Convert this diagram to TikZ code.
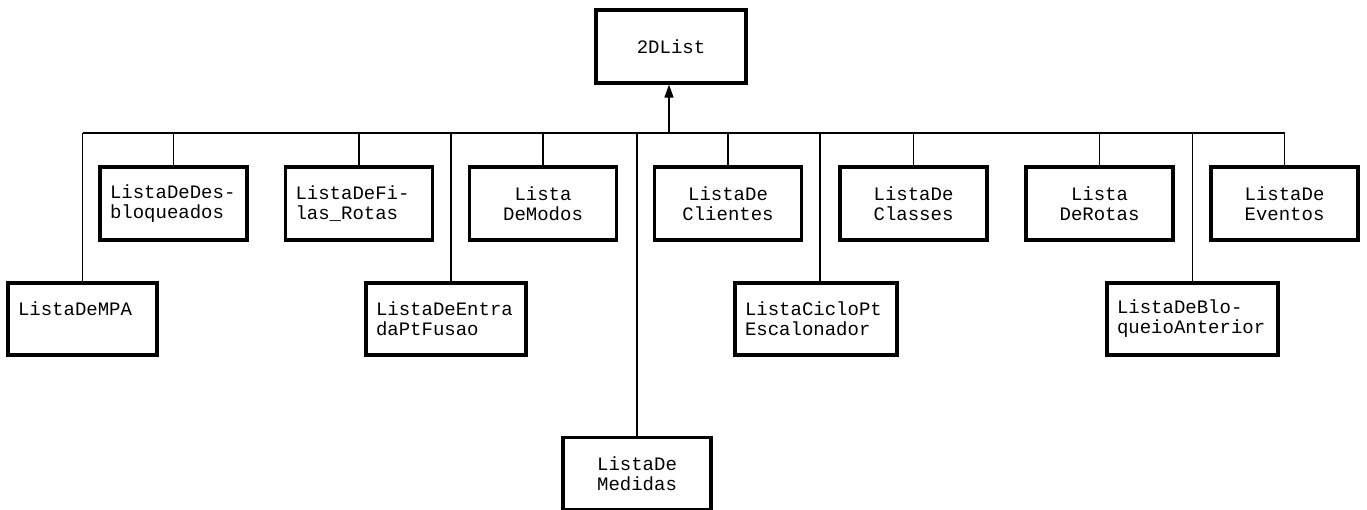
\documentclass[tikz,border=0pt]{standalone}
\usepackage{fontspec}
\setmonofont{Liberation Mono}
\usetikzlibrary{arrows.meta}
\newfontfamily\diagfont{Liberation Mono}
\begin{document}
\begin{tikzpicture}[x=1pt,y=-1pt,
  cls/.style={draw, line width=3.2pt, inner xsep=10pt, inner ysep=0pt,
    minimum height=73pt, font=\diagfont\fontsize{19}{20}\selectfont},
  lbox/.style={cls, align=left},
  cbox/.style={cls, align=center},
  conn/.style={line width=1.3pt}
]
\useasboundingbox (0,0) rectangle (1367,510);
% root
\node[cbox, text width=130pt] (top) at (671,46.5) {2DList};
% bus
\coordinate (bus) at (669,133);
% top row
\node[lbox, text width=127pt] (des) at (173.5,203.5) {ListaDeDes-\\bloqueados};
\node[lbox, text width=127pt] (fil) at (359,203.5) {ListaDeFi-\\las\_Rotas};
\node[cbox, text width=127pt] (mod) at (543,203.5) {Lista\\DeModos};
\node[cbox, text width=127pt] (cli) at (728,203.5) {ListaDe\\Clientes};
\node[cbox, text width=127pt] (cla) at (913.5,203.5) {ListaDe\\Classes};
\node[cbox, text width=127pt] (rot) at (1099.5,203.5) {Lista\\DeRotas};
\node[cbox, text width=127pt] (eve) at (1284.5,203.5) {ListaDe\\Eventos};
% second row
\node[lbox, text width=129pt, minimum height=72pt] (mpa) at (82.5,319) {ListaDeMPA\\~};
\node[lbox, text width=140pt, minimum height=72pt] (ent) at (446,319) {ListaDeEntra\\daPtFusao};
\node[lbox, text width=142pt, minimum height=72pt] (cic) at (816,319) {ListaCicloPt\\Escalonador};
\node[lbox, text width=151pt, minimum height=72pt] (blo) at (1192.5,319) {ListaDeBlo-\\queioAnterior};
% bottom
\node[cbox, text width=128pt, minimum height=72pt] (med) at (637,473.5) {ListaDe\\Medidas};
% connectors
\draw[conn] (mpa.north |- bus) -- (eve.north |- bus);
\draw[conn, -{Triangle[length=13pt,width=9pt]}] (bus) -- (bus |- top.south);
\draw[conn] (mpa.north) -- (mpa.north |- bus);
\draw[conn] (des.north) -- (des.north |- bus);
\draw[conn] (fil.north) -- (fil.north |- bus);
\draw[conn] ([xshift=5pt]ent.north) -- ([xshift=5pt]ent.north |- bus);
\draw[conn] (mod.north) -- (mod.north |- bus);
\draw[conn] (med.north) -- (med.north |- bus);
\draw[conn] (cli.north) -- (cli.north |- bus);
\draw[conn] ([xshift=4pt]cic.north) -- ([xshift=4pt]cic.north |- bus);
\draw[conn] (cla.north) -- (cla.north |- bus);
\draw[conn] (rot.north) -- (rot.north |- bus);
\draw[conn] (blo.north) -- (blo.north |- bus);
\draw[conn] (eve.north) -- (eve.north |- bus);
\end{tikzpicture}
\end{document}
